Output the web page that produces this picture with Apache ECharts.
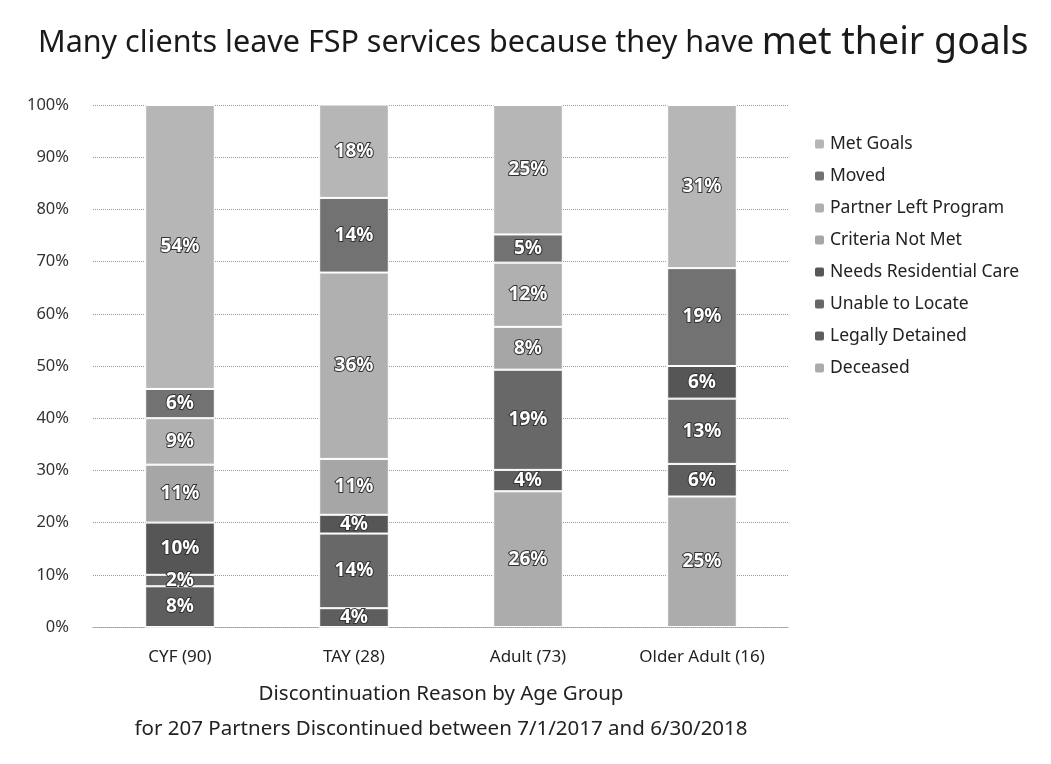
<!DOCTYPE html>
<html>
<head>
<meta charset="utf-8">
<script src="https://cdn.jsdelivr.net/npm/echarts@6/dist/echarts.min.js"></script>
<style>
  html, body { margin: 0; padding: 0; background: #fff; }
  #chart { width: 1051px; height: 764px; }
</style>
</head>
<body>
<div id="chart"></div>
<script>
// age groups on the x axis
const categories = ['CYF (90)', 'TAY (28)', 'Adult (73)', 'Older Adult (16)'];
const yTicks = [0, 10, 20, 30, 40, 50, 60, 70, 80, 90, 100];

// percent per reason, stacked from the bottom up (CYF, TAY, Adult, Older Adult)
const deceased          = [0, 0, 26.0, 25.0];
const legallyDetained   = [7.8, 3.6, 4.1, 6.25];
const unableToLocate    = [2.2, 14.3, 19.2, 12.5];
const residentialCare   = [10.0, 3.6, 0, 6.25];
const criteriaNotMet    = [11.1, 10.7, 8.2, 0];
const partnerLeft       = [8.9, 35.7, 12.3, 0];
const moved             = [5.6, 14.3, 5.4, 18.75];
const metGoals          = [54.4, 17.9, 24.8, 31.25];

const font = "'Noto Sans', sans-serif";

// series listed bottom -> top
const seriesList = [
  { name: 'Deceased', data: deceased, color: '#acacac' },
  { name: 'Legally Detained', data: legallyDetained, color: '#5e5e5e' },
  { name: 'Unable to Locate', data: unableToLocate, color: '#686868' },
  { name: 'Needs Residential Care', data: residentialCare, color: '#565656' },
  { name: 'Criteria Not Met', data: criteriaNotMet, color: '#a6a6a6' },
  { name: 'Partner Left Program', data: partnerLeft, color: '#b0b0b0' },
  { name: 'Moved', data: moved, color: '#727272' },
  { name: 'Met Goals', data: metGoals, color: '#b6b6b6' }
];

let myChart = echarts.init(document.getElementById('chart'));
myChart.setOption({
  animation: false,
  backgroundColor: '#fff',
  title: {
    text: '{a|Many clients leave FSP services because they have }{b|met their goals}',
    left: 33,
    top: 19,
    textStyle: {
      rich: {
        a: { fontFamily: font, fontSize: 30.5, fontWeight: 'normal', color: '#1a1a1a' },
        b: { fontFamily: font, fontSize: 37.5, fontWeight: 'normal', color: '#1a1a1a' }
      }
    }
  },
  grid: {
    left: 93,
    right: 262,
    top: 105,
    bottom: 137
  },
  legend: {
    orient: 'vertical',
    left: 808,
    top: 130,
    itemGap: 14,
    itemWidth: 11,
    itemHeight: 11,
    data: seriesList.map(s => s.name).reverse(),
    textStyle: { fontFamily: font, fontSize: 17.5, color: '#222' }
  },
  xAxis: {
    type: 'category',
    data: categories,
    axisTick: { show: false },
    axisLine: { lineStyle: { color: '#999', type: 'dotted' } },
    axisLabel: { fontFamily: font, fontSize: 17, color: '#222', margin: 22 },
    name: 'Discontinuation Reason by Age Group\nfor 207 Partners Discontinued between 7/1/2017 and 6/30/2018',
    nameLocation: 'middle',
    nameGap: 50,
    nameTextStyle: { fontFamily: font, fontSize: 20.5, color: '#222', lineHeight: 35 }
  },
  yAxis: {
    type: 'value',
    min: yTicks[0],
    max: yTicks[yTicks.length - 1],
    interval: 10,
    axisLabel: { formatter: '{value}%', fontFamily: font, fontSize: 16.5, color: '#333', margin: 24 },
    splitLine: { lineStyle: { color: '#9a9a9a', type: 'dotted' } }
  },
  series: seriesList.map(s => ({
    name: s.name,
    type: 'bar',
    stack: 'total',
    barWidth: '40%',
    data: s.data,
    itemStyle: { color: s.color, borderColor: '#fff', borderWidth: 1 },
    label: {
      show: true,
      position: 'inside',
      formatter: p => (p.value ? Math.round(p.value) + '%' : ''),
      fontFamily: font,
      fontSize: 19,
      fontWeight: 'bold',
      color: '#fff',
      textBorderColor: '#333',
      textBorderWidth: 2
    }
  }))
});
</script>
</body>
</html>
